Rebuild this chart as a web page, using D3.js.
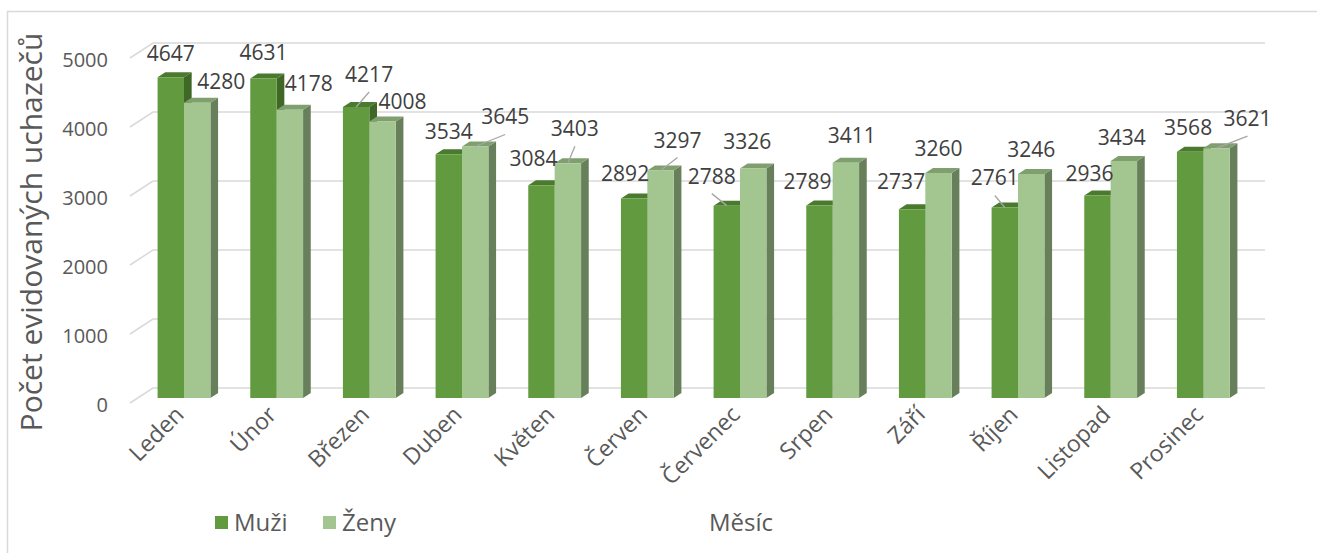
<!DOCTYPE html>
<html>
<head>
<meta charset="utf-8">
<script src="https://cdn.jsdelivr.net/npm/d3@7"></script>
<style>
  html, body { margin: 0; padding: 0; background: #fff; }
  svg { display: block; font-family: "Open Sans", "Noto Sans", sans-serif; }
</style>
</head>
<body>
<svg id="chart" width="1317" height="553"></svg>
<script>
// Registered job seekers by month, men vs women
const months = ["Leden", "Únor", "Březen", "Duben", "Květen", "Červen",
                "Červenec", "Srpen", "Září", "Říjen", "Listopad", "Prosinec"];
const seriesNames = ["Muži", "Ženy"];
const muzi = [4647, 4631, 4217, 3534, 3084, 2892, 2788, 2789, 2737, 2761, 2936, 3568];
const zeny = [4280, 4178, 4008, 3645, 3403, 3297, 3326, 3411, 3260, 3246, 3434, 3621];
const yTicks = [0, 1000, 2000, 3000, 4000, 5000];

// Label nudges away from the default "outside end" spot, [dx, dy] in px
const labelNudgeMuzi = [[0,1],[0,-1],[13,-8],[0,2],[-8,-2],[-9,0],[-15,-5],[-12,0],[-11,-3],[-10,-5],[-8,3],[-2,0]];
const labelNudgeZeny = [[24,3],[19,-2],[20,5],[30,-5],[7,-10],[17,-6],[-6,-3],[6,-3],[0,0],[0,0],[-2,1],[31,-5]];
const leaderMuzi = [false,false,true,false,false,false,true,false,false,true,false,false];
const leaderZeny = [false,false,false,true,true,true,false,false,false,false,false,true];

const colors = {
  Muži: { front: "#629b3f", top: "#4a7a2d", side: "#3f6827" },
  Ženy: { front: "#a3c58f", top: "#7f9f6f", side: "#677f5a" }
};

const svg = d3.select("#chart");

// Chart frame
svg.append("rect")
  .attr("x", 7.5).attr("y", 11.5)
  .attr("width", 1330).attr("height", 560)
  .attr("fill", "none").attr("stroke", "#d9d9d9").attr("stroke-width", 1.5);

// Front plane of the 3-D plot box; depth vector moves toward the back wall
const plot = { left: 130, right: 1242 };
const depth = { dx: 23, dy: -15 };
const proj = (x, y, d) => [x + depth.dx * d, y + depth.dy * d];

const y = d3.scaleLinear().domain([0, 5000]).range([403, 58]);
const x0 = d3.scaleBand().domain(months).range([plot.left, plot.right])
  .paddingInner(0.43).paddingOuter(0.215);
const x1 = d3.scaleBand().domain(seriesNames).range([0, x0.bandwidth()]);
const xCat = d3.scalePoint().domain(months).range([plot.left, plot.right]).padding(0.5);

// Back-wall gridlines with their floor-side diagonal
const grid = svg.append("g").attr("fill", "none").attr("stroke", "#d9d9d9").attr("stroke-width", 1.5);
yTicks.forEach(t => {
  const a = [plot.left, y(t)];
  const b = proj(plot.left, y(t), 1);
  const c = proj(plot.right, y(t), 1);
  grid.append("path").attr("d", d3.line()([a, b, c]));
});

// Value axis labels
svg.append("g").selectAll("text").data(yTicks).join("text")
  .attr("x", 108).attr("y", d => y(d) + 1)
  .attr("text-anchor", "end").attr("dominant-baseline", "central")
  .attr("fill", "#595959").attr("font-size", 20)
  .text(d => d);

// 3-D columns: front face sits at one third of the depth, back face at two thirds
const dFront = 1 / 3, dBack = 2 / 3;
const bars = [];
months.forEach((m, i) => {
  [["Muži", muzi[i]], ["Ženy", zeny[i]]].forEach(([s, v]) => {
    const xl = x0(m) + x1(s), xr = xl + x1.bandwidth();
    bars.push({ m, i, s, v, xl, xr });
  });
});

const barG = svg.append("g");
bars.forEach(b => {
  const c = colors[b.s];
  const fl = proj(b.xl, y(b.v), dFront), fr = proj(b.xr, y(b.v), dFront);
  const bl = proj(b.xl, y(b.v), dBack), br = proj(b.xr, y(b.v), dBack);
  const frb = proj(b.xr, y(0), dFront), brb = proj(b.xr, y(0), dBack);
  const flb = proj(b.xl, y(0), dFront);
  const g = barG.append("g");
  g.append("path").attr("d", d3.line()([fr, br, brb, frb]) + "Z").attr("fill", c.side);
  g.append("path").attr("d", d3.line()([fl, fr, br, bl]) + "Z").attr("fill", c.top);
  g.append("path").attr("d", d3.line()([fl, fr, frb, flb]) + "Z").attr("fill", c.front);
  b.cx = (fl[0] + fr[0]) / 2;
  b.top = fl[1];
});

// Data labels with optional leader lines
const labelG = svg.append("g");
bars.forEach(b => {
  const nudge = (b.s === "Muži" ? labelNudgeMuzi : labelNudgeZeny)[b.i];
  const lead = (b.s === "Muži" ? leaderMuzi : leaderZeny)[b.i];
  const lx = b.cx + nudge[0];
  const ly = b.top - 25 + nudge[1];
  if (lead) {
    labelG.append("line")
      .attr("x1", lx).attr("y1", ly + 18)
      .attr("x2", b.cx).attr("y2", b.top)
      .attr("stroke", "#a6a6a6").attr("stroke-width", 1.3);
  }
  labelG.append("text")
    .attr("x", lx).attr("y", ly)
    .attr("text-anchor", "middle").attr("dominant-baseline", "central")
    .attr("fill", "#404040").attr("font-size", 21)
    .text(b.v);
});

// Category labels, rotated
svg.append("g").selectAll("text").data(months).join("text")
  .attr("transform", d => `translate(${xCat(d) + 9},416) rotate(-45)`)
  .attr("text-anchor", "end")
  .attr("fill", "#595959").attr("font-size", 23)
  .text(d => d);

// Axis titles
svg.append("text")
  .attr("transform", "translate(42,232) rotate(-90)")
  .attr("text-anchor", "middle")
  .attr("fill", "#595959").attr("font-size", 30)
  .text("Počet evidovaných uchazečů");

svg.append("text")
  .attr("x", 741).attr("y", 531)
  .attr("text-anchor", "middle")
  .attr("fill", "#595959").attr("font-size", 24)
  .text("Měsíc");

// Legend
const legend = svg.append("g");
const legendX = [215, 323];
seriesNames.forEach((s, k) => {
  legend.append("rect")
    .attr("x", legendX[k]).attr("y", 516)
    .attr("width", 13).attr("height", 13)
    .attr("fill", colors[s].front);
  legend.append("text")
    .attr("x", legendX[k] + 19).attr("y", 531)
    .attr("fill", "#595959").attr("font-size", 24)
    .text(s);
});
</script>
</body>
</html>
